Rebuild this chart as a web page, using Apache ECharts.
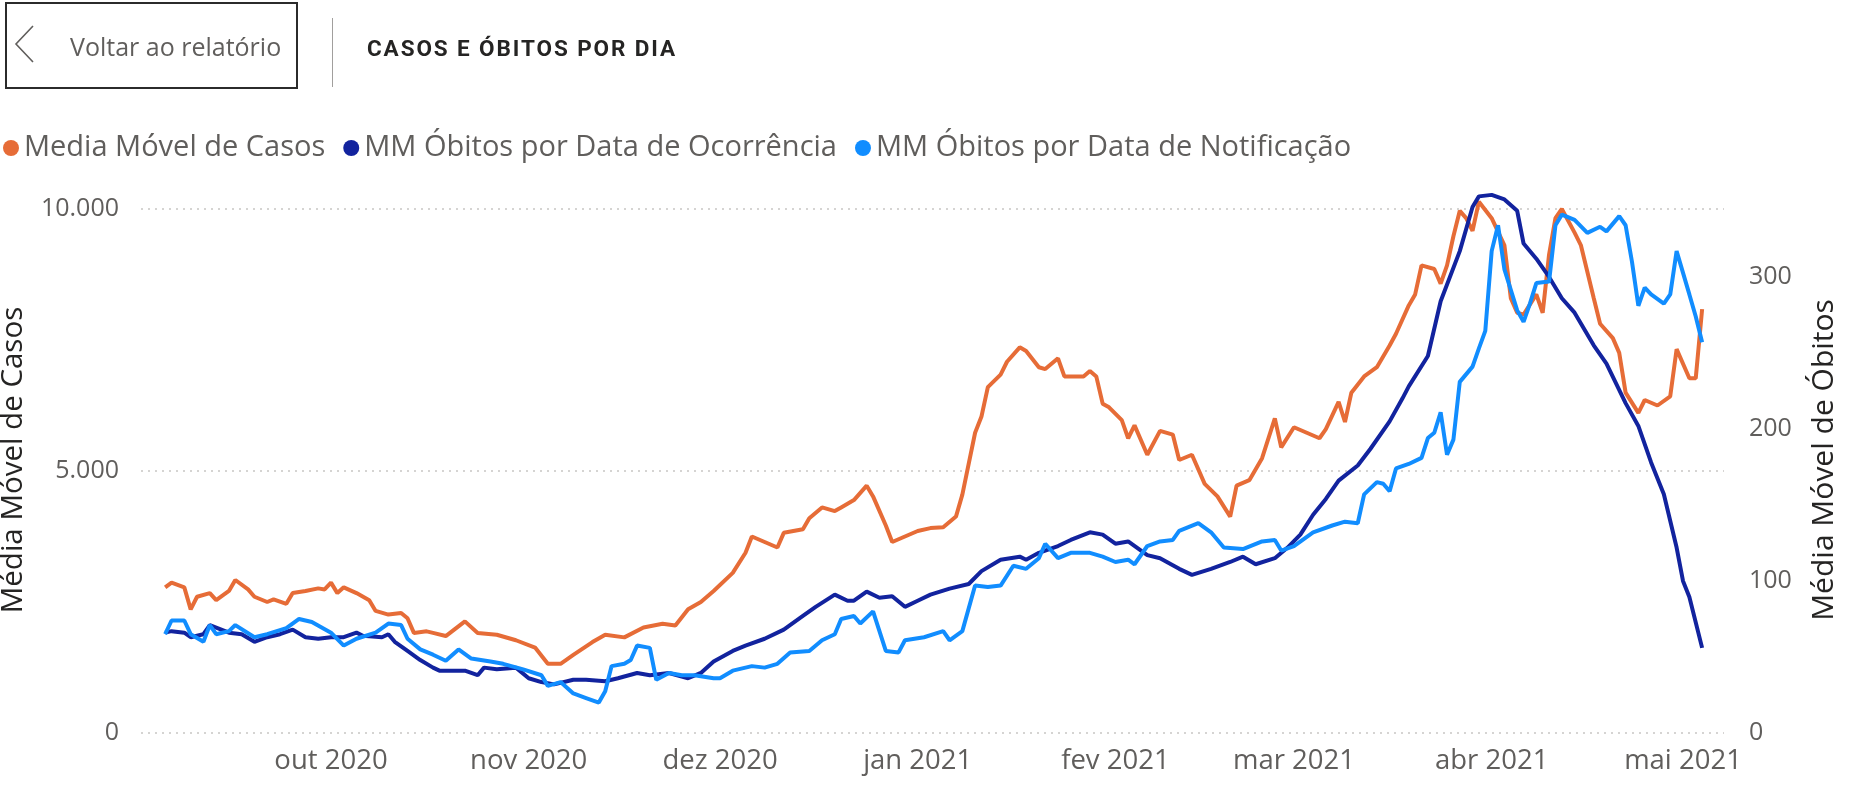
<!DOCTYPE html>
<html><head><meta charset="utf-8">
<script src="https://cdn.jsdelivr.net/npm/echarts@6.0.0/dist/echarts.min.js"></script>
<style>
html,body{margin:0;padding:0;background:#fff;width:1860px;height:806px;overflow:hidden;}
#chart{position:absolute;left:0;top:0;width:1860px;height:806px;}
#back{position:absolute;left:5px;top:2px;width:289px;height:83px;border:2px solid #2b2b2b;}
#chev{position:absolute;left:0;top:0;}
#backtxt{position:absolute;left:70px;top:30px;line-height:32px;font-family:"Open Sans",sans-serif;font-size:25px;color:#605E5C;white-space:nowrap;}
#sep{position:absolute;left:332px;top:18px;width:1px;height:69px;background:#A19F9D;}
#title{position:absolute;left:367px;top:33px;line-height:30px;font-family:Roboto,sans-serif;font-weight:700;font-size:22.5px;letter-spacing:1.9px;color:#252423;white-space:nowrap;}
</style></head><body>
<div id="chart"></div>
<div id="back"></div>
<svg id="chev" width="60" height="90"><polyline points="33,26 16,44 33,62" fill="none" stroke="#605E5C" stroke-width="1.6"/></svg>
<div id="backtxt">Voltar ao relatório</div>
<div id="sep"></div>
<div id="title">CASOS E ÓBITOS POR DIA</div>
<script>
const seriesNames = ['Media Móvel de Casos', 'MM Óbitos por Data de Ocorrência', 'MM Óbitos por Data de Notificação'];
const mesesAbrev = ['jan','fev','mar','abr','mai','jun','jul','ago','set','out','nov','dez'];
const leftAxisName = 'Média Móvel de Casos';
const rightAxisName = 'Média Móvel de Óbitos';

const casos = [['2020-09-05',2780],['2020-09-06',2870],['2020-09-08',2780],['2020-09-09',2360],['2020-09-10',2600],['2020-09-12',2670],['2020-09-13',2535],['2020-09-15',2710],['2020-09-16',2920],['2020-09-18',2740],['2020-09-19',2600],['2020-09-21',2500],['2020-09-22',2550],['2020-09-24',2465],['2020-09-25',2670],['2020-09-27',2710],['2020-09-29',2760],['2020-09-30',2740],['2020-10-01',2870],['2020-10-02',2670],['2020-10-03',2780],['2020-10-05',2670],['2020-10-07',2535],['2020-10-08',2330],['2020-10-10',2260],['2020-10-12',2290],['2020-10-13',2190],['2020-10-14',1910],['2020-10-16',1940],['2020-10-17',1910],['2020-10-19',1850],['2020-10-22',2130],['2020-10-24',1910],['2020-10-27',1875],['2020-10-30',1770],['2020-11-02',1630],['2020-11-04',1320],['2020-11-06',1320],['2020-11-08',1490],['2020-11-11',1735],['2020-11-13',1875],['2020-11-16',1825],['2020-11-19',2015],['2020-11-22',2085],['2020-11-24',2050],['2020-11-26',2360],['2020-11-28',2500],['2020-11-30',2710],['2020-12-03',3055],['2020-12-05',3440],['2020-12-06',3750],['2020-12-08',3645],['2020-12-10',3540],['2020-12-11',3820],['2020-12-14',3890],['2020-12-15',4100],['2020-12-17',4305],['2020-12-19',4235],['2020-12-20',4305],['2020-12-22',4445],['2020-12-24',4720],['2020-12-25',4515],['2020-12-27',3960],['2020-12-28',3645],['2020-12-30',3750],['2021-01-01',3855],['2021-01-03',3910],['2021-01-05',3925],['2021-01-07',4130],['2021-01-08',4550],['2021-01-10',5730],['2021-01-11',6040],['2021-01-12',6600],['2021-01-14',6840],['2021-01-15',7085],['2021-01-17',7360],['2021-01-18',7290],['2021-01-20',6980],['2021-01-21',6945],['2021-01-23',7150],['2021-01-24',6805],['2021-01-27',6805],['2021-01-28',6910],['2021-01-29',6805],['2021-01-30',6285],['2021-01-31',6215],['2021-02-02',5970],['2021-02-03',5625],['2021-02-04',5870],['2021-02-06',5310],['2021-02-08',5765],['2021-02-10',5695],['2021-02-11',5210],['2021-02-13',5310],['2021-02-15',4755],['2021-02-17',4515],['2021-02-19',4130],['2021-02-20',4720],['2021-02-22',4825],['2021-02-24',5245],['2021-02-26',6005],['2021-02-27',5450],['2021-03-01',5835],['2021-03-03',5730],['2021-03-05',5625],['2021-03-06',5800],['2021-03-08',6320],['2021-03-09',5935],['2021-03-10',6495],['2021-03-12',6805],['2021-03-14',6980],['2021-03-16',7395],['2021-03-17',7620],['2021-03-19',8160],['2021-03-20',8370],['2021-03-21',8925],['2021-03-23',8855],['2021-03-24',8575],['2021-03-25',8925],['2021-03-26',9480],['2021-03-27',9965],['2021-03-28',9825],['2021-03-29',9585],['2021-03-30',10140],['2021-04-01',9825],['2021-04-03',9305],['2021-04-04',8300],['2021-04-05',8020],['2021-04-06',7985],['2021-04-08',8370],['2021-04-09',8020],['2021-04-10',9130],['2021-04-11',9825],['2021-04-12',10000],['2021-04-14',9550],['2021-04-15',9305],['2021-04-17',8300],['2021-04-18',7810],['2021-04-20',7535],['2021-04-21',7255],['2021-04-22',6495],['2021-04-24',6110],['2021-04-25',6355],['2021-04-27',6250],['2021-04-29',6425],['2021-04-30',7325],['2021-05-02',6770],['2021-05-03',6770],['2021-05-04',8090]];

const obitosOcorrencia = [['2020-09-05',66],['2020-09-06',67],['2020-09-08',66],['2020-09-09',63],['2020-09-11',65],['2020-09-12',71],['2020-09-15',66],['2020-09-17',65],['2020-09-19',60],['2020-09-21',63],['2020-09-23',65],['2020-09-25',68],['2020-09-27',63],['2020-09-29',62],['2020-10-01',63],['2020-10-03',63],['2020-10-05',66],['2020-10-06',64],['2020-10-09',63],['2020-10-10',65],['2020-10-11',60],['2020-10-13',54],['2020-10-15',48],['2020-10-17',43],['2020-10-18',41],['2020-10-20',41],['2020-10-22',41],['2020-10-24',38],['2020-10-25',43],['2020-10-27',42],['2020-10-30',43],['2020-11-01',36],['2020-11-03',33.5],['2020-11-05',32],['2020-11-08',35],['2020-11-10',35],['2020-11-13',34],['2020-11-15',36],['2020-11-18',39.5],['2020-11-20',38],['2020-11-23',39.5],['2020-11-26',36],['2020-11-28',39.5],['2020-11-30',47],['2020-12-03',54],['2020-12-05',57.5],['2020-12-08',62],['2020-12-11',68],['2020-12-14',77],['2020-12-16',83],['2020-12-19',91],['2020-12-21',87],['2020-12-22',87],['2020-12-24',93],['2020-12-26',89],['2020-12-28',90],['2020-12-30',83],['2021-01-01',87],['2021-01-03',91],['2021-01-06',95],['2021-01-09',98],['2021-01-11',106.5],['2021-01-14',114],['2021-01-17',116],['2021-01-18',114],['2021-01-20',118.5],['2021-01-23',123],['2021-01-25',127],['2021-01-28',132],['2021-01-30',130.5],['2021-02-01',124.5],['2021-02-03',126],['2021-02-06',117],['2021-02-08',115],['2021-02-11',108],['2021-02-13',104],['2021-02-16',108],['2021-02-19',112.5],['2021-02-21',116],['2021-02-23',111],['2021-02-26',115],['2021-02-28',122],['2021-03-02',130.5],['2021-03-04',143.6],['2021-03-06',154],['2021-03-08',166],['2021-03-11',176],['2021-03-13',187],['2021-03-16',205],['2021-03-18',220],['2021-03-19',228],['2021-03-22',248],['2021-03-24',284],['2021-03-27',317],['2021-03-29',346],['2021-03-30',353],['2021-04-01',354],['2021-04-03',351],['2021-04-05',343.5],['2021-04-06',322],['2021-04-08',312],['2021-04-10',300],['2021-04-12',286],['2021-04-14',276.5],['2021-04-17',255],['2021-04-19',243],['2021-04-22',217],['2021-04-24',202],['2021-04-26',178],['2021-04-28',157],['2021-04-30',122],['2021-05-01',100],['2021-05-02',89.5],['2021-05-04',56]];

const obitosNotificacao = [['2020-09-05',65],['2020-09-06',74],['2020-09-08',74],['2020-09-09',65],['2020-09-11',60],['2020-09-12',71],['2020-09-13',65],['2020-09-15',67],['2020-09-16',71],['2020-09-19',63],['2020-09-21',65],['2020-09-24',69],['2020-09-26',75],['2020-09-28',73],['2020-10-01',66],['2020-10-03',57.5],['2020-10-05',62],['2020-10-08',66],['2020-10-10',72],['2020-10-12',71],['2020-10-13',62],['2020-10-15',55],['2020-10-17',51.5],['2020-10-19',47.5],['2020-10-21',55],['2020-10-23',49],['2020-10-26',47],['2020-10-28',45.5],['2020-10-31',42],['2020-11-03',38],['2020-11-04',31],['2020-11-06',33.5],['2020-11-08',26],['2020-11-10',23],['2020-11-12',20],['2020-11-13',27.5],['2020-11-14',44],['2020-11-16',45.5],['2020-11-17',48],['2020-11-18',57.5],['2020-11-20',56],['2020-11-21',35],['2020-11-23',39.5],['2020-11-25',38],['2020-11-27',38],['2020-11-30',36],['2020-12-01',36],['2020-12-03',41],['2020-12-06',44],['2020-12-08',43],['2020-12-10',45.5],['2020-12-12',53],['2020-12-15',54],['2020-12-17',61],['2020-12-19',65],['2020-12-20',75],['2020-12-22',77],['2020-12-23',72],['2020-12-25',80],['2020-12-27',54],['2020-12-29',53],['2020-12-30',61],['2021-01-02',63],['2021-01-05',67],['2021-01-06',61],['2021-01-08',67],['2021-01-10',97],['2021-01-12',96],['2021-01-14',97],['2021-01-16',110],['2021-01-18',108],['2021-01-20',115],['2021-01-21',124.5],['2021-01-23',115],['2021-01-25',118.5],['2021-01-28',118.5],['2021-01-30',116],['2021-02-01',112.5],['2021-02-03',114],['2021-02-04',111],['2021-02-06',123],['2021-02-08',126],['2021-02-10',127],['2021-02-11',133],['2021-02-14',138],['2021-02-16',132],['2021-02-18',122],['2021-02-21',121],['2021-02-24',126],['2021-02-26',127],['2021-02-27',120],['2021-03-01',123],['2021-03-04',132],['2021-03-07',136.5],['2021-03-09',139],['2021-03-11',138],['2021-03-12',157],['2021-03-14',165],['2021-03-15',164],['2021-03-16',159],['2021-03-17',174],['2021-03-19',177],['2021-03-21',181],['2021-03-22',194],['2021-03-23',197.5],['2021-03-24',211],['2021-03-25',183],['2021-03-26',193],['2021-03-27',231],['2021-03-29',241],['2021-03-30',253],['2021-03-31',264.5],['2021-04-01',317],['2021-04-02',334],['2021-04-03',305],['2021-04-05',278],['2021-04-06',270.5],['2021-04-07',282.5],['2021-04-08',296],['2021-04-10',297],['2021-04-11',334],['2021-04-12',341],['2021-04-14',337.5],['2021-04-16',329],['2021-04-18',333],['2021-04-19',330],['2021-04-21',340],['2021-04-22',334],['2021-04-23',310],['2021-04-24',281],['2021-04-25',293],['2021-04-26',288.5],['2021-04-28',282.5],['2021-04-29',288.5],['2021-04-30',317],['2021-05-02',288.5],['2021-05-03',274],['2021-05-04',257]];

const DAY = 86400000;
function ts(s){ const p = s.split('-').map(Number); return Date.UTC(p[0], p[1]-1, p[2]); }
function toSeries(arr){ return arr.map(function(d){ return [ts(d[0]), d[1]]; }); }

const colors = ['#E66C37', '#12239E', '#118DFF'];
const FONT = '"Open Sans", "Noto Sans", sans-serif';

const chart = echarts.init(document.getElementById('chart'), null, {renderer: 'canvas'});
const lineCommon = { type: 'line', showSymbol: false, symbol: 'none', clip: false, smooth: false, animation: false,
  emphasis: { disabled: true } };

chart.setOption({
  animation: false,
  useUTC: true,
  textStyle: { fontFamily: FONT },
  legend: {
    data: seriesNames,
    left: 3, top: 133, padding: 0,
    icon: 'circle', itemWidth: 16, itemHeight: 16, itemGap: 18,
    textStyle: { fontFamily: FONT, fontSize: 29, color: '#605E5C', lineHeight: 30 },
    selectedMode: false
  },
  grid: { left: 141, right: 136, top: 209, bottom: 73, containLabel: false, outerBoundsMode: 'none' },
  xAxis: {
    type: 'time',
    min: Date.UTC(2020, 8, 1) + 0.21 * DAY,
    max: Date.UTC(2021, 4, 1) + 6.43 * DAY,
    minInterval: 28 * DAY,
    maxInterval: 31 * DAY,
    axisLine: { show: false }, axisTick: { show: false }, splitLine: { show: false },
    axisLabel: {
      fontSize: 27.5, color: '#605E5C', margin: 14, fontFamily: FONT,
      showMinLabel: false, showMaxLabel: false, hideOverlap: false,
      formatter: function (v) {
        const d = new Date(v);
        if (d.getUTCDate() !== 1 || d.getUTCHours() !== 0 || d.getUTCMinutes() !== 0) return '';
        return mesesAbrev[d.getUTCMonth()] + ' ' + d.getUTCFullYear();
      }
    }
  },
  yAxis: [
    {
      type: 'value', position: 'left', min: 0, max: 10000, interval: 5000,
      axisLine: { show: false }, axisTick: { show: false },
      splitLine: { show: true, lineStyle: { color: '#C8C6C4', width: 1.5, type: [2, 5] } },
      axisLabel: { fontSize: 25, color: '#605E5C', margin: 22, fontFamily: FONT,
        formatter: function (v) { return String(v).replace(/\B(?=(\d{3})+(?!\d))/g, '.'); } },
      name: leftAxisName, nameLocation: 'middle', nameRotate: 90, nameGap: 112,
      nameTextStyle: { fontSize: 29.5, color: '#252423', fontFamily: FONT, padding: [0, 0, 0, 22] }
    },
    {
      type: 'value', position: 'right', min: 0, max: 344.7, interval: 100,
      axisLine: { show: false }, axisTick: { show: false }, splitLine: { show: false },
      axisLabel: { fontSize: 25, color: '#605E5C', margin: 25, fontFamily: FONT, showMaxLabel: false,
        formatter: function (v) { return (v % 100 === 0) ? String(v) : ''; } },
      name: rightAxisName, nameLocation: 'middle', nameRotate: 90, nameGap: 85,
      nameTextStyle: { fontSize: 30, color: '#252423', fontFamily: FONT, padding: [0, 0, 0, 22] }
    }
  ],
  series: [
    Object.assign({}, lineCommon, { name: seriesNames[0], yAxisIndex: 0, data: toSeries(casos), color: colors[0], lineStyle: { width: 4, color: colors[0] }, z: 2 }),
    Object.assign({}, lineCommon, { name: seriesNames[1], yAxisIndex: 1, data: toSeries(obitosOcorrencia), color: colors[1], lineStyle: { width: 4, color: colors[1] }, z: 3 }),
    Object.assign({}, lineCommon, { name: seriesNames[2], yAxisIndex: 1, data: toSeries(obitosNotificacao), color: colors[2], lineStyle: { width: 4, color: colors[2] }, z: 4 })
  ]
});
</script>
</body></html>
